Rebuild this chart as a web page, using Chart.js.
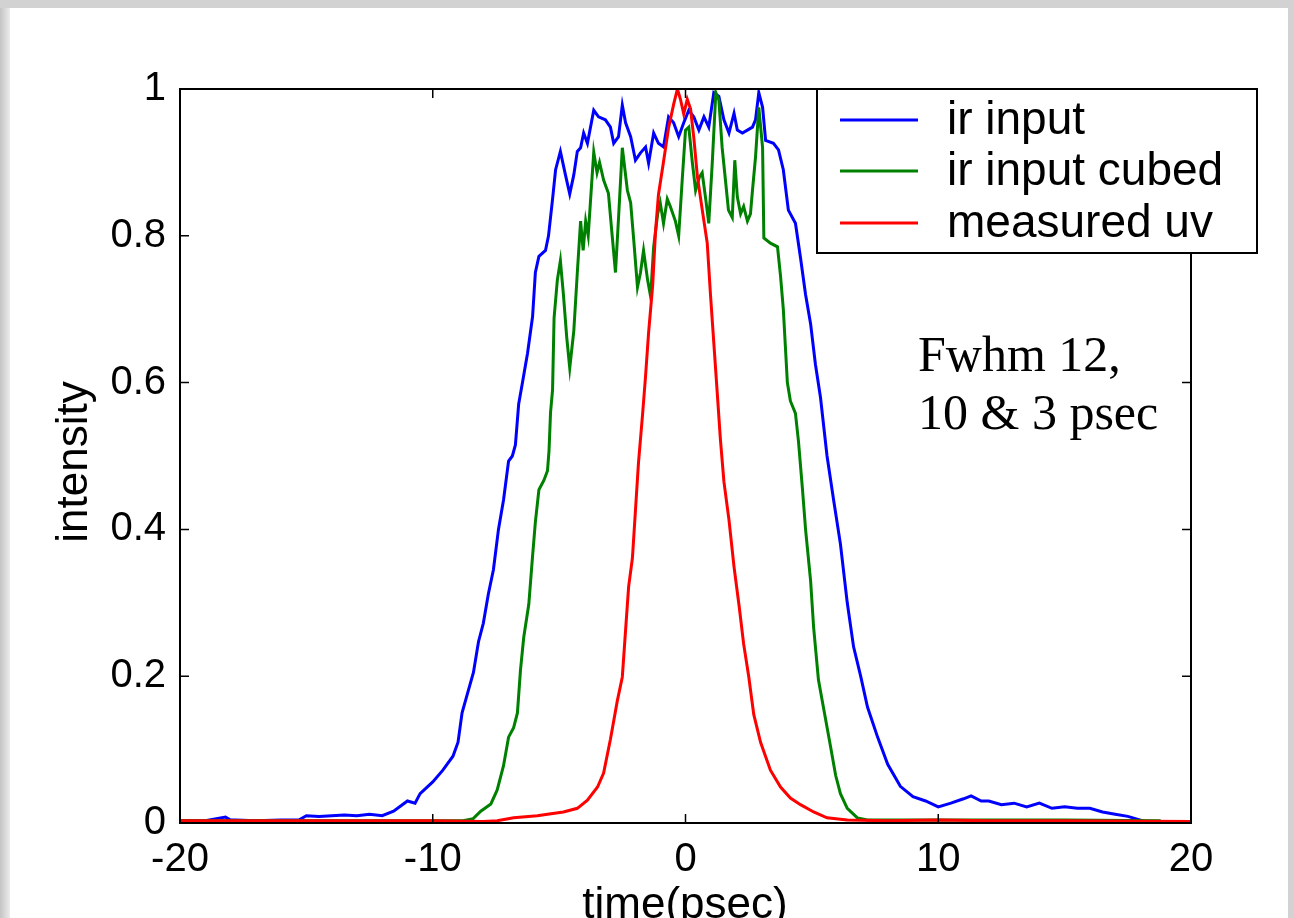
<!DOCTYPE html>
<html>
<head>
<meta charset="utf-8">
<script src="https://cdn.jsdelivr.net/npm/chart.js@4"></script>
<style>
  html, body { margin: 0; padding: 0; background: #fff; }
  canvas { display: block; }
</style>
</head>
<body>
<canvas id="myChart" width="1294" height="918"></canvas>
<script>
// time axis (psec) and intensity values
const irT = [-20, -19, -18.2, -18, -17.8, -17, -16, -15.3, -15, -14.5, -14, -13.5, -13, -12.5, -12, -11.55, -11, -10.7, -10.5, -10,
  -9.6, -9.2, -9.0, -8.84, -8.63, -8.39, -8.19, -8.0, -7.8, -7.6, -7.4, -7.2, -7.0, -6.85, -6.73, -6.6, -6.45, -6.25, -6.05, -5.94,
  -5.8, -5.54, -5.42, -5.26, -5.14, -4.95, -4.75, -4.58, -4.42, -4.28, -4.15, -4.03, -3.88, -3.63, -3.44, -3.17, -2.97, -2.84, -2.65, -2.5,
  -2.37, -2.17, -1.98, -1.78, -1.58, -1.46, -1.26, -1.07, -0.87, -0.67, -0.47, -0.27, -0.07, 0.13, 0.33, 0.53, 0.73, 0.92, 1.12, 1.32,
  1.52, 1.72, 1.92, 2.05, 2.25, 2.45, 2.65, 2.77, 2.9, 3.05, 3.17, 3.48, 3.68, 3.87, 4.07, 4.35, 4.55, 4.75, 4.95, 5.14,
  5.34, 5.6, 5.86, 6.13, 6.4, 6.65, 6.93, 7.2, 7.6, 8.0, 8.5, 9.0, 9.5, 10.0, 10.5, 11.0, 11.3, 11.7, 12.0, 12.5,
  13.0, 13.5, 14.0, 14.5, 15.0, 15.5, 16.0, 16.5, 17.0, 17.5, 18.0, 18.3];
const irV = [0.003, 0.003, 0.008, 0.004, 0.004, 0.003, 0.004, 0.004, 0.01, 0.009, 0.01, 0.011, 0.01, 0.012, 0.01, 0.016, 0.03, 0.027, 0.04, 0.056,
  0.072, 0.091, 0.11, 0.15, 0.176, 0.205, 0.247, 0.272, 0.312, 0.345, 0.40, 0.44, 0.493, 0.5, 0.515, 0.571, 0.6, 0.64, 0.69, 0.75,
  0.772, 0.78, 0.8, 0.85, 0.89, 0.915, 0.883, 0.857, 0.883, 0.915, 0.92, 0.94, 0.926, 0.971, 0.962, 0.958, 0.948, 0.926, 0.935, 0.978,
  0.954, 0.935, 0.903, 0.913, 0.921, 0.899, 0.94, 0.926, 0.921, 0.962, 0.954, 0.935, 0.954, 0.971, 0.962, 0.944, 0.962, 0.948, 0.995, 0.99,
  0.958, 0.94, 0.967, 0.944, 0.94, 0.944, 0.948, 0.958, 0.995, 0.975, 0.93, 0.926, 0.917, 0.89, 0.835, 0.817, 0.77, 0.72, 0.68, 0.625,
  0.58, 0.5, 0.44, 0.38, 0.3, 0.24, 0.2, 0.158, 0.117, 0.08, 0.05, 0.036, 0.03, 0.022, 0.027, 0.033, 0.037, 0.03, 0.03, 0.025,
  0.027, 0.022, 0.027, 0.02, 0.022, 0.02, 0.02, 0.015, 0.012, 0.009, 0.004, 0.0];

const cubedT = [-20, -15, -10, -8.8, -8.4, -8.1, -7.7, -7.45, -7.2, -7.0, -6.8, -6.65, -6.53, -6.4, -6.2, -6.05, -5.94, -5.8, -5.6, -5.46,
  -5.4, -5.34, -5.26, -5.2, -5.07, -4.95, -4.83, -4.7, -4.58, -4.42, -4.28, -4.15, -4.05, -3.95, -3.85, -3.63, -3.5, -3.4, -3.24, -3.05,
  -2.9, -2.77, -2.64, -2.5, -2.3, -2.17, -2.05, -1.9, -1.78, -1.66, -1.5, -1.38, -1.26, -1.1, -1.0, -0.87, -0.72, -0.6, -0.4, -0.27,
  -0.13, 0, 0.13, 0.27, 0.4, 0.55, 0.66, 0.8, 0.92, 1.06, 1.2, 1.32, 1.45, 1.58, 1.7, 1.85, 1.95, 2.05, 2.18, 2.3,
  2.45, 2.57, 2.65, 2.77, 2.9, 3.05, 3.1, 3.36, 3.64, 3.76, 3.87, 4.03, 4.15, 4.35, 4.47, 4.63, 4.75, 4.95, 5.07, 5.26,
  5.46, 5.74, 5.94, 6.13, 6.4, 6.8, 7.2, 10, 15, 18.8];
const cubedV = [0.003, 0.003, 0.003, 0.003, 0.006, 0.016, 0.026, 0.045, 0.078, 0.117, 0.13, 0.15, 0.208, 0.253, 0.298, 0.364, 0.41, 0.454, 0.467, 0.48,
  0.507, 0.559, 0.59, 0.688, 0.74, 0.766, 0.72, 0.662, 0.62, 0.67, 0.75, 0.82, 0.78, 0.82, 0.8, 0.914, 0.886, 0.9, 0.876, 0.858,
  0.80, 0.75, 0.83, 0.92, 0.862, 0.845, 0.795, 0.73, 0.75, 0.78, 0.74, 0.717, 0.785, 0.83, 0.845, 0.817, 0.85, 0.84, 0.82, 0.80,
  0.876, 0.944, 0.948, 0.9, 0.862, 0.88, 0.886, 0.85, 0.817, 0.9, 0.995, 0.985, 0.92, 0.876, 0.835, 0.825, 0.903, 0.853, 0.83, 0.84,
  0.82, 0.83, 0.862, 0.907, 0.975, 0.92, 0.797, 0.79, 0.785, 0.745, 0.7, 0.6, 0.575, 0.558, 0.52, 0.454, 0.40, 0.33, 0.266, 0.195,
  0.157, 0.104, 0.065, 0.04, 0.02, 0.007, 0.004, 0.004, 0.004, 0.003];

const uvT = [-20, -15, -10, -8, -7.45, -6.8, -5.86, -5.46, -4.83, -4.28, -3.88, -3.48, -3.24, -2.97, -2.7, -2.5, -2.37, -2.25, -2.1, -1.98,
  -1.86, -1.7, -1.58, -1.46, -1.3, -1.19, -1.07, -0.87, -0.67, -0.47, -0.32, -0.2, -0.07, 0.07, 0.2, 0.33, 0.47, 0.66, 0.86, 0.99,
  1.12, 1.25, 1.38, 1.52, 1.72, 1.92, 2.12, 2.3, 2.5, 2.7, 2.97, 3.36, 3.76, 4.15, 4.55, 5.07, 5.6, 6.4, 8, 10,
  12, 15, 20];
const uvV = [0.003, 0.003, 0.003, 0.002, 0.003, 0.007, 0.01, 0.012, 0.015, 0.02, 0.031, 0.049, 0.068, 0.114, 0.166, 0.199, 0.263, 0.322, 0.361, 0.426,
  0.491, 0.556, 0.609, 0.668, 0.732, 0.804, 0.856, 0.901, 0.947, 0.979, 1.0, 0.986, 0.966, 0.986, 0.973, 0.933, 0.881, 0.836, 0.79, 0.719,
  0.654, 0.589, 0.523, 0.465, 0.413, 0.349, 0.296, 0.244, 0.2, 0.148, 0.11, 0.072, 0.049, 0.034, 0.025, 0.015, 0.007, 0.004, 0.003, 0.004,
  0.003, 0.003, 0.002];

const seriesNames = ['ir input', 'ir input cubed', 'measured uv'];
const seriesColors = ['#0000ff', '#008000', '#ff0000'];
const xTicks = [-20, -10, 0, 10, 20];
const yTicks = [0, 0.2, 0.4, 0.6, 0.8, 1];

const sans = "'Liberation Sans', Arial, sans-serif";
const serif = "'Liberation Serif', 'Times New Roman', serif";

const toPoints = (ts, vs) => ts.map((t, i) => ({ x: t, y: vs[i] }));

// grey slide frame behind everything
const frame = {
  id: 'frame',
  beforeDraw(chart) {
    const ctx = chart.ctx;
    ctx.save();
    ctx.fillStyle = '#d2d2d2';
    ctx.fillRect(0, 0, chart.width, chart.height);
    const g = ctx.createLinearGradient(0, 0, 10, 0);
    g.addColorStop(0, '#c4c4c4');
    g.addColorStop(1, '#ececec');
    ctx.fillStyle = g;
    ctx.fillRect(0, 8, 10, chart.height);
    ctx.fillStyle = '#ffffff';
    ctx.fillRect(10, 8, chart.width - 16, chart.height);
    ctx.restore();
  }
};

// matlab style box, inward ticks, legend, titles and note
const decor = {
  id: 'decor',
  afterDraw(chart) {
    const ctx = chart.ctx;
    const a = chart.chartArea;
    const xs = chart.scales.x, ys = chart.scales.y;
    ctx.save();
    ctx.strokeStyle = '#000';
    ctx.lineWidth = 2;
    ctx.strokeRect(a.left, a.top, a.right - a.left, a.bottom - a.top);
    ctx.lineWidth = 1.5;
    ctx.beginPath();
    xTicks.forEach(v => {
      const px = xs.getPixelForValue(v);
      ctx.moveTo(px, a.bottom); ctx.lineTo(px, a.bottom - 9);
      ctx.moveTo(px, a.top); ctx.lineTo(px, a.top + 9);
    });
    yTicks.forEach(v => {
      const py = ys.getPixelForValue(v);
      ctx.moveTo(a.left, py); ctx.lineTo(a.left + 9, py);
      ctx.moveTo(a.right, py); ctx.lineTo(a.right - 9, py);
    });
    ctx.stroke();

    // legend box
    ctx.fillStyle = '#fff';
    ctx.fillRect(817, 89, 440, 164);
    ctx.lineWidth = 2;
    ctx.strokeRect(817, 89, 440, 164);
    const rows = [120, 171, 223];
    ctx.font = '46px ' + sans;
    ctx.textBaseline = 'middle';
    ctx.textAlign = 'left';
    seriesNames.forEach((name, i) => {
      ctx.strokeStyle = seriesColors[i];
      ctx.lineWidth = 3;
      ctx.beginPath();
      ctx.moveTo(840, rows[i]); ctx.lineTo(918, rows[i]);
      ctx.stroke();
      ctx.fillStyle = '#000';
      ctx.fillText(name, 947, rows[i] + 1);
    });

    // axis titles
    ctx.fillStyle = '#000';
    ctx.font = '44px ' + sans;
    ctx.textAlign = 'center';
    ctx.textBaseline = 'alphabetic';
    ctx.fillText('time(psec)', 685, 918);
    ctx.save();
    ctx.translate(75, 462);
    ctx.rotate(-Math.PI / 2);
    ctx.textBaseline = 'middle';
    ctx.fillText('intensity', 0, 0);
    ctx.restore();

    // note
    ctx.font = '50px ' + serif;
    ctx.textAlign = 'left';
    ctx.textBaseline = 'alphabetic';
    ctx.fillText('Fwhm 12,', 918, 371);
    ctx.fillText('10 & 3 psec', 918, 429);
    ctx.restore();
  }
};

const series = [toPoints(irT, irV), toPoints(cubedT, cubedV), toPoints(uvT, uvV)];

const myChart = new Chart(document.getElementById('myChart'), {
  type: 'line',
  data: {
    datasets: series.map((pts, i) => ({
      label: seriesNames[i],
      data: pts,
      borderColor: seriesColors[i],
      backgroundColor: seriesColors[i],
      borderWidth: 3,
      pointRadius: 0,
      tension: 0,
      fill: false,
      order: 3 - i
    }))
  },
  options: {
    responsive: false,
    animation: false,
    layout: { padding: { top: 89, right: 103, left: 0, bottom: 0 } },
    plugins: {
      legend: { display: false },
      tooltip: { enabled: false }
    },
    scales: {
      x: {
        type: 'linear',
        min: -20,
        max: 20,
        ticks: {
          stepSize: 10,
          color: '#000',
          font: { family: sans, size: 40 },
          padding: 13,
          maxRotation: 0
        },
        grid: { display: false, drawTicks: false },
        border: { display: false },
        afterFit(s) { s.height = 95; }
      },
      y: {
        min: 0,
        max: 1,
        ticks: {
          stepSize: 0.2,
          color: '#000',
          font: { family: sans, size: 40 },
          padding: 14,
          callback: v => String(Number(v.toFixed(1)))
        },
        grid: { display: false, drawTicks: false },
        border: { display: false },
        afterFit(s) { s.width = 180; }
      }
    }
  },
  plugins: [frame, decor]
});
</script>
</body>
</html>
